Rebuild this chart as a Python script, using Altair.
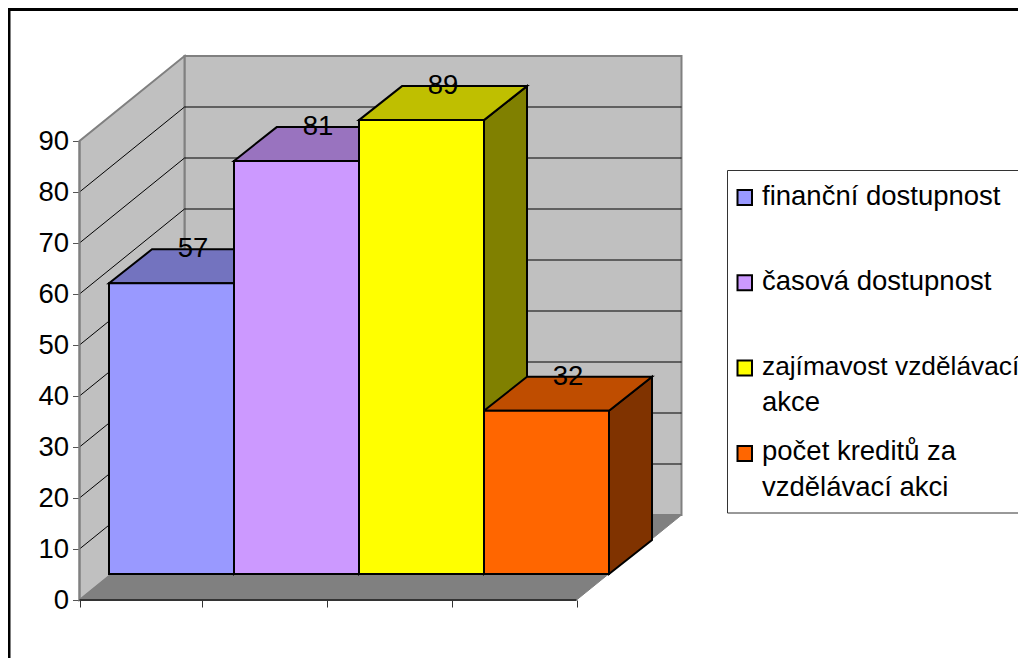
import altair as alt
import pandas as pd

# --- data
names = ["finanční dostupnost", "časová dostupnost", "zajímavost vzdělávací akce", "počet kreditů za vzdělávací akci"]
legend_lines = [["finanční dostupnost"], ["časová dostupnost"], ["zajímavost vzdělávací", "akce"], ["počet kreditů za", "vzdělávací akci"]]
values = [57, 81, 89, 32]
front_colors = ["#9999FF", "#CC99FF", "#FFFF00", "#FF6600"]
top_colors = ["#7373BF", "#9973BF", "#BFBF00", "#BF4D00"]
side_colors = ["#4D4D80", "#664D80", "#808000", "#803300"]
y_ticks = list(range(0, 100, 10))
axis_max = 90

# --- layout of the pseudo-3D projection (page pixels)
W, H = 1010, 650
ORIGIN_X, ORIGIN_Y = 79.5, 600.0     # page position of category 0 / value 0
PX_CAT, PX_VAL = 125.0, 5.1          # pixels per category / per value unit
WALL_DX, WALL_DY = 105.0, 85.0       # depth of the floor
BAR_OX, BAR_OY = 29.5, 26.0          # front of the bars, from the front of the floor
BAR_DX, BAR_DY = 43.0, 34.0          # depth of a bar
FLOOR_CATS = 3.976
FONT = "Liberation Sans"
FONT_SIZE = 27.5
LEGEND_FONT_SIZE = 27.5
LEGEND_LONG_FONT_SIZE = 26.3         # the longest line has to stay inside the page


def ux(px):  # pixels along x -> category units
    return px / PX_CAT


def uy(py):  # pixels up -> value units
    return py / PX_VAL


def page_x(px):
    return (px - ORIGIN_X) / PX_CAT


def page_y(py):
    return (ORIGIN_Y - py) / PX_VAL


x_scale = alt.Scale(domain=[page_x(8), page_x(8 + W)], range=[0, W], nice=False, zero=False)
y_scale = alt.Scale(domain=[page_y(8 + H), page_y(8)], range=[H, 0], nice=False, zero=False)

x_tick_values = [0, 0.976, 1.976, 2.976, 3.976]
x_axis = alt.Axis(orient="bottom", offset=-(8 + H - ORIGIN_Y), values=x_tick_values, labels=False,
                  domain=False, grid=False, ticks=True, tickSize=7, tickColor="#333333", tickWidth=1, title=None)
y_axis = alt.Axis(orient="left", offset=-(ORIGIN_X - 8), values=y_ticks, domain=False, grid=False,
                  tickSize=7, tickColor="#555555", tickWidth=1, labelFont=FONT, labelFontSize=FONT_SIZE,
                  labelColor="black", labelPadding=4, labelOverlap=False, labelFlush=False, title=None)


def X(f="x"):
    return alt.X(f"{f}:Q", scale=x_scale, axis=x_axis)


def Y(f="y"):
    return alt.Y(f"{f}:Q", scale=y_scale, axis=y_axis)


X2 = alt.X2("x2:Q")
Y2 = alt.Y2("y2:Q")
FILL = alt.Color("fill:N", scale=None)

# --- walls and floor
wall_back = pd.DataFrame([{"x": ux(WALL_DX), "x2": FLOOR_CATS + ux(WALL_DX), "y": uy(WALL_DY), "y2": axis_max + uy(WALL_DY)}])
wall_left = pd.DataFrame([
    {"x": 0, "y": 0, "y2": axis_max, "fill": "#C0C0C0"},
    {"x": ux(WALL_DX), "y": uy(WALL_DY), "y2": axis_max + uy(WALL_DY), "fill": "#C0C0C0"},
])
floor = pd.DataFrame([
    {"y": 0, "x": 0, "x2": FLOOR_CATS, "fill": "#808080"},
    {"y": uy(WALL_DY), "x": ux(WALL_DX), "x2": FLOOR_CATS + ux(WALL_DX), "fill": "#808080"},
])
grid_ticks = [t for t in y_ticks if 0 < t < axis_max]
grid_back = pd.DataFrame([{"x": ux(WALL_DX), "x2": FLOOR_CATS + ux(WALL_DX), "y": t + uy(WALL_DY)} for t in grid_ticks])
grid_left = pd.DataFrame([{"x": 0, "x2": ux(WALL_DX), "y": t, "y2": t + uy(WALL_DY)} for t in grid_ticks])

back = alt.Chart(wall_back).mark_rect(fill="#C0C0C0", stroke="#808080", strokeWidth=2).encode(x=X(), x2=X2, y=Y(), y2=Y2)
left = alt.Chart(wall_left).mark_area(stroke="#808080", strokeWidth=2, orient="vertical").encode(x=X(), y=Y(), y2=Y2, color=FILL)
floor_l = alt.Chart(floor).mark_area(stroke="#808080", strokeWidth=1, orient="horizontal").encode(y=Y(), x=X(), x2=X2, color=FILL)
grid_b = alt.Chart(grid_back).mark_rule(color="black", strokeWidth=1).encode(x=X(), x2=X2, y=Y())
grid_l = alt.Chart(grid_left).mark_rule(color="black", strokeWidth=1).encode(x=X(), x2=X2, y=Y(), y2=Y2)
axis_left = alt.Chart(pd.DataFrame([{"x": 0, "y": 0, "y2": axis_max}])).mark_rule(color="#808080", strokeWidth=2).encode(x=X(), y=Y(), y2=Y2)
axis_bottom = alt.Chart(pd.DataFrame([{"x": 0, "x2": FLOOR_CATS, "y": 0}])).mark_rule(color="#333333", strokeWidth=2).encode(x=X(), x2=X2, y=Y())

# --- bars
fronts, tops, sides, labels = [], [], [], []
for i, v in enumerate(values):
    L = ux(BAR_OX) + i
    R = L + 1
    B = uy(BAR_OY)
    T = B + v
    dx, dy = ux(BAR_DX), uy(BAR_DY)
    fronts.append({"x": L, "x2": R, "y": B, "y2": T, "fill": front_colors[i], "name": names[i]})
    tops += [
        {"b": i, "y": T, "x": L, "x2": R, "fill": top_colors[i]},
        {"b": i, "y": T + dy, "x": L + dx, "x2": R + dx, "fill": top_colors[i]},
    ]
    sides += [
        {"b": i, "x": R, "y": B, "y2": T, "fill": side_colors[i]},
        {"b": i, "x": R + dx, "y": B + dy, "y2": T + dy, "fill": side_colors[i]},
    ]
    labels.append({"x": (L + R) / 2 + dx / 2, "y": T + dy, "t": str(v)})

side_l = alt.Chart(pd.DataFrame(sides)).mark_area(stroke="black", strokeWidth=2, orient="vertical").encode(x=X(), y=Y(), y2=Y2, color=FILL)
top_l = alt.Chart(pd.DataFrame(tops)).mark_area(stroke="black", strokeWidth=2, orient="horizontal").encode(y=Y(), x=X(), x2=X2, color=FILL)
front_l = alt.Chart(pd.DataFrame(fronts)).mark_rect(stroke="black", strokeWidth=2).encode(x=X(), x2=X2, y=Y(), y2=Y2, color=FILL)
label_l = alt.Chart(pd.DataFrame(labels)).mark_text(font=FONT, fontSize=FONT_SIZE, color="black", baseline="middle", align="center").encode(
    x=X(), y=Y(), text="t:N")

# --- chart frame
frame_left = alt.Chart(pd.DataFrame([{"k": 0}])).mark_rule(color="black", strokeWidth=3).encode(
    x=alt.value(1), y=alt.value(0), y2=alt.value(H))
frame_top = alt.Chart(pd.DataFrame([{"k": 0}])).mark_rule(color="black", strokeWidth=3).encode(
    y=alt.value(1.5), x=alt.value(0), x2=alt.value(W))

# --- legend
legend_box = alt.Chart(pd.DataFrame([{"x": page_x(727.5), "x2": page_x(1040), "y": page_y(513), "y2": page_y(170.5)}])).mark_rect(
    fill="white", stroke="#333333", strokeWidth=1).encode(x=X(), x2=X2, y=Y(), y2=Y2)
ROW0, ROW_STEP, LINE_STEP = 196.5, 85.3, 35.5
sym_rows, txt_rows = [], []
for i, lines in enumerate(legend_lines):
    cy = ROW0 + i * ROW_STEP
    sym_rows.append({"x": page_x(737.5), "x2": page_x(752), "y": page_y(cy + 8.5), "y2": page_y(cy - 6.5), "fill": front_colors[i]})
    for j, line in enumerate(lines):
        size = LEGEND_LONG_FONT_SIZE if len(line) > 20 else LEGEND_FONT_SIZE
        txt_rows.append({"x": page_x(762), "y": page_y(cy + j * LINE_STEP), "t": line, "fs": size})
legend_sym = alt.Chart(pd.DataFrame(sym_rows)).mark_rect(stroke="black", strokeWidth=2).encode(x=X(), x2=X2, y=Y(), y2=Y2, color=FILL)
legend_txt = alt.Chart(pd.DataFrame(txt_rows)).mark_text(font=FONT, color="black", align="left", baseline="middle").encode(
    x=X(), y=Y(), text="t:N", size=alt.Size("fs:Q", scale=None))

chart = alt.layer(
    back, left, floor_l, grid_b, grid_l, axis_left, axis_bottom,
    side_l, top_l, front_l, label_l,
    legend_box, legend_sym, legend_txt, frame_left, frame_top,
).properties(width=W, height=H, padding=0, autosize="none", background="white").configure_view(stroke=None)

chart.save("out.html", embed_options={"renderer": "svg", "actions": False})
